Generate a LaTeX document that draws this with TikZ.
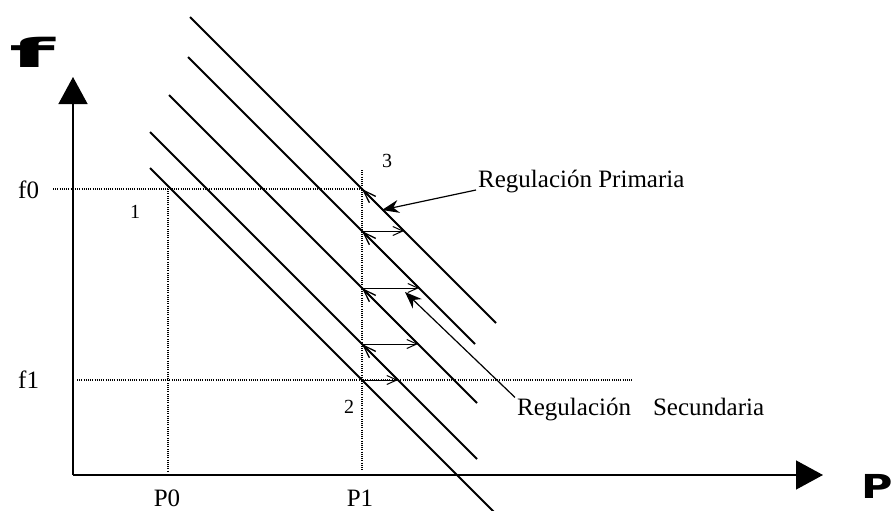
\documentclass[tikz,border=0pt]{standalone}
\usepackage{fontspec}
\setmainfont{Liberation Serif}
\newfontfamily\axisfont{DejaVu Sans}
\usetikzlibrary{arrows.meta,calc}

\begin{document}
\begin{tikzpicture}[
    x=1pt, y=-1pt,
    font=\fontsize{25}{30}\selectfont,
    axis/.style={line width=1.3pt, -{Triangle[length=27pt, width=29pt]}},
    demand/.style={line width=2pt},
    guide/.style={line width=1.5pt, dash pattern=on 1pt off 1.2pt},
    stepline/.style={line width=1pt, -{Straight Barb[length=10pt, width=9pt]}},
    backline/.style={line width=1.3pt, -{Straight Barb[length=13pt, width=9pt]}},
    callout/.style={line width=1.2pt, -{Stealth[length=17pt, width=13pt]}},
    pointlbl/.style={font=\fontsize{20}{22}\selectfont, inner sep=0pt},
    lbl/.style={inner sep=0pt},
  ]
  \useasboundingbox (0,0) rectangle (892,511);
  \def\Pa{362}

  % axes
  \coordinate (O) at (73,475);
  \draw[axis] (O) -- (73,77);
  \draw[axis] (O) -- (823,475);
  \node[lbl, font=\axisfont\bfseries\fontsize{42}{42}\selectfont] (fax) at (32,52) {\scalebox{2.5}[0.95]{f}};
  \node[lbl, anchor=west, font=\axisfont\bfseries\fontsize{33}{33}\selectfont] (pax) at (861,486) {\scalebox{1.3}[1]{P}};

  % guide lines for f0, f1, P0, P1
  \coordinate (p3) at (\Pa,189);
  \coordinate (p2) at (\Pa,380);
  \draw[guide] (53,189) -- (p3);
  \draw[guide] (77,380) -- (632,380);
  \draw[guide] (168,189) -- (168,472);
  \draw[guide] (\Pa,170) -- (\Pa,470);
  \node[lbl, anchor=base west] (f0) at (18,198) {f0};
  \node[lbl, anchor=base west] (f1) at (18,388) {f1};
  \node[lbl, anchor=base] (P0) at (167,506) {P0};
  \node[lbl, anchor=base] (P1) at (360,506) {P1};

  % characteristic lines, slope -1
  \foreach \c/\xa/\xb in {-173/190/496, -131/188/475, -74/169/477, -18/150/477, 18/150/495}
    \draw[demand] (\xa,\xa+\c) -- (\xb,\xb+\c);

  % staircase from 2 to 3
  \foreach \ya/\xe/\yb in {380/398/344, 344/418/288, 288/419/231, 231/404/189} {
    \draw[stepline] (\Pa,\ya) -- (\xe,\ya);
    \draw[backline] (\xe,\ya) -- (\Pa,\yb);
  }

  \node[pointlbl] (n1) at (135,212) {1};
  \node[pointlbl] (n2) at (349,407) {2};
  \node[pointlbl] (n3) at (387,161) {3};

  % callouts
  \node[lbl, anchor=base west] (prim) at (478,187) {Regulación Primaria};
  \node[lbl, anchor=base west] (sec) at (517,415) {Regulación\hspace{22pt}Secundaria};
  \draw[callout] (prim.base west) ++(-2,3) -- (382,210);
  \draw[callout] (sec.north west) ++(-2,0) -- (405,292);
\end{tikzpicture}
\end{document}
